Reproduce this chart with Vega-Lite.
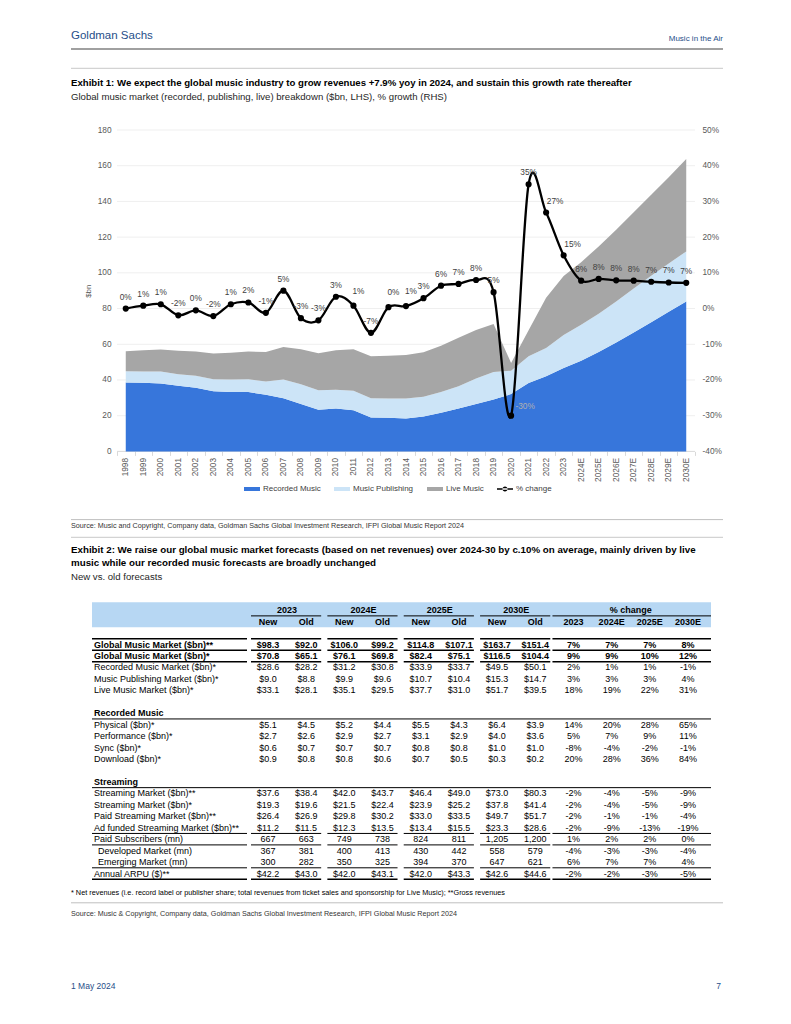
{
"$schema":"https://vega.github.io/schema/vega-lite/v6.json",
"padding":{"left":66,"top":20,"right":0,"bottom":0},
"bounds":"flush",
"spacing":0,
"config":{"view":{"stroke":null},"font":"Liberation Sans","axis":{"labelOverlap":false,"labelSeparation":0}},
"datasets":{
"market":[
{"year":"1998","Recorded Music":38.6,"Music Publishing":6.3,"Live Music":11.2},
{"year":"1999","Recorded Music":38.4,"Music Publishing":6.3,"Live Music":11.9},
{"year":"2000","Recorded Music":38.0,"Music Publishing":6.7,"Live Music":12.3},
{"year":"2001","Recorded Music":36.7,"Music Publishing":6.5,"Live Music":13.1},
{"year":"2002","Recorded Music":35.6,"Music Publishing":6.7,"Live Music":13.6},
{"year":"2003","Recorded Music":33.7,"Music Publishing":6.7,"Live Music":14.4},
{"year":"2004","Recorded Music":33.2,"Music Publishing":7.0,"Live Music":15.1},
{"year":"2005","Recorded Music":33.2,"Music Publishing":7.2,"Live Music":15.5},
{"year":"2006","Recorded Music":31.7,"Music Publishing":7.4,"Live Music":16.6},
{"year":"2007","Recorded Music":29.8,"Music Publishing":10.4,"Live Music":18.3},
{"year":"2008","Recorded Music":26.5,"Music Publishing":11.1,"Live Music":19.6},
{"year":"2009","Recorded Music":23.3,"Music Publishing":11.0,"Live Music":20.7},
{"year":"2010","Recorded Music":24.0,"Music Publishing":10.5,"Live Music":22.1},
{"year":"2011","Recorded Music":23.1,"Music Publishing":10.8,"Live Music":23.3},
{"year":"2012","Recorded Music":19.0,"Music Publishing":10.8,"Live Music":23.5},
{"year":"2013","Recorded Music":18.8,"Music Publishing":10.8,"Live Music":23.9},
{"year":"2014","Recorded Music":18.4,"Music Publishing":11.2,"Live Music":24.4},
{"year":"2015","Recorded Music":19.5,"Music Publishing":11.1,"Live Music":24.9},
{"year":"2016","Recorded Music":21.6,"Music Publishing":11.7,"Live Music":25.8},
{"year":"2017","Recorded Music":24.0,"Music Publishing":12.5,"Live Music":27.2},
{"year":"2018","Recorded Music":26.5,"Music Publishing":14.3,"Live Music":27.2},
{"year":"2019","Recorded Music":29.0,"Music Publishing":15.5,"Live Music":26.9},
{"year":"2020","Recorded Music":32.1,"Music Publishing":13.1,"Live Music":4.3},
{"year":"2021","Recorded Music":38.3,"Music Publishing":15.0,"Live Music":14.6},
{"year":"2022","Recorded Music":42.1,"Music Publishing":15.8,"Live Music":28.1},
{"year":"2023","Recorded Music":46.7,"Music Publishing":18.5,"Live Music":33.1},
{"year":"2024E","Recorded Music":50.8,"Music Publishing":20.1,"Live Music":35.1},
{"year":"2025E","Recorded Music":55.7,"Music Publishing":21.4,"Live Music":37.7},
{"year":"2026E","Recorded Music":61.0,"Music Publishing":23.0,"Live Music":40.2},
{"year":"2027E","Recorded Music":66.6,"Music Publishing":24.6,"Live Music":42.8},
{"year":"2028E","Recorded Music":72.4,"Music Publishing":26.0,"Live Music":45.4},
{"year":"2029E","Recorded Music":78.2,"Music Publishing":27.1,"Live Music":48.3},
{"year":"2030E","Recorded Music":84.0,"Music Publishing":28.0,"Live Music":51.7}
],
"growth":[
{"year":"1998","pct":0.0,"label":"0%"},
{"year":"1999","pct":0.8,"label":"1%"},
{"year":"2000","pct":1.2,"label":"1%"},
{"year":"2001","pct":-1.9,"label":"-2%"},
{"year":"2002","pct":-0.5,"label":"0%"},
{"year":"2003","pct":-2.1,"label":"-2%"},
{"year":"2004","pct":1.2,"label":"1%"},
{"year":"2005","pct":1.7,"label":"2%"},
{"year":"2006","pct":-1.2,"label":"-1%"},
{"year":"2007","pct":5.0,"label":"5%"},
{"year":"2008","pct":-2.7,"label":"-3%"},
{"year":"2009","pct":-3.3,"label":"-3%"},
{"year":"2010","pct":3.3,"label":"3%"},
{"year":"2011","pct":0.8,"label":"1%"},
{"year":"2012","pct":-6.8,"label":"-7%"},
{"year":"2013","pct":0.4,"label":"0%"},
{"year":"2014","pct":0.7,"label":"1%"},
{"year":"2015","pct":2.9,"label":"3%"},
{"year":"2016","pct":6.4,"label":"6%"},
{"year":"2017","pct":6.9,"label":"7%"},
{"year":"2018","pct":8.0,"label":"8%"},
{"year":"2019","pct":4.6,"label":"5%"},
{"year":"2020","pct":-30.0,"label":"-30%"},
{"year":"2021","pct":34.8,"label":"35%"},
{"year":"2022","pct":26.9,"label":"27%"},
{"year":"2023","pct":14.9,"label":"15%"},
{"year":"2024E","pct":7.8,"label":"8%"},
{"year":"2025E","pct":8.3,"label":"8%"},
{"year":"2026E","pct":7.9,"label":"8%"},
{"year":"2027E","pct":7.8,"label":"8%"},
{"year":"2028E","pct":7.5,"label":"7%"},
{"year":"2029E","pct":7.3,"label":"7%"},
{"year":"2030E","pct":7.2,"label":"7%"}
],
"grid":[{"g":0},{"g":20},{"g":40},{"g":60},{"g":80},{"g":100},{"g":120},{"g":140},{"g":160},{"g":180}],
"table":[
{"row":-2,"label":"","2023 New":"New","2023 Old":"Old","2024E New":"New","2024E Old":"Old","2025E New":"New","2025E Old":"Old","2030E New":"New","2030E Old":"Old","% 2023":"2023","% 2024E":"2024E","% 2025E":"2025E","% 2030E":"2030E"},
{"row":0,"label":"Global Music Market ($bn)**","2023 New":"$98.3","2023 Old":"$92.0","2024E New":"$106.0","2024E Old":"$99.2","2025E New":"$114.8","2025E Old":"$107.1","2030E New":"$163.7","2030E Old":"$151.4","% 2023":"7%","% 2024E":"7%","% 2025E":"7%","% 2030E":"8%"},
{"row":1,"label":"Global Music Market ($bn)*","2023 New":"$70.8","2023 Old":"$65.1","2024E New":"$76.1","2024E Old":"$69.8","2025E New":"$82.4","2025E Old":"$75.1","2030E New":"$116.5","2030E Old":"$104.4","% 2023":"9%","% 2024E":"9%","% 2025E":"10%","% 2030E":"12%"},
{"row":2,"label":"Recorded Music Market ($bn)*","2023 New":"$28.6","2023 Old":"$28.2","2024E New":"$31.2","2024E Old":"$30.8","2025E New":"$33.9","2025E Old":"$33.7","2030E New":"$49.5","2030E Old":"$50.1","% 2023":"2%","% 2024E":"1%","% 2025E":"1%","% 2030E":"-1%"},
{"row":3,"label":"Music Publishing Market ($bn)*","2023 New":"$9.0","2023 Old":"$8.8","2024E New":"$9.9","2024E Old":"$9.6","2025E New":"$10.7","2025E Old":"$10.4","2030E New":"$15.3","2030E Old":"$14.7","% 2023":"3%","% 2024E":"3%","% 2025E":"3%","% 2030E":"4%"},
{"row":4,"label":"Live Music Market ($bn)*","2023 New":"$33.1","2023 Old":"$28.1","2024E New":"$35.1","2024E Old":"$29.5","2025E New":"$37.7","2025E Old":"$31.0","2030E New":"$51.7","2030E Old":"$39.5","% 2023":"18%","% 2024E":"19%","% 2025E":"22%","% 2030E":"31%"},
{"row":6,"label":"Recorded Music"},
{"row":7,"label":"Physical ($bn)*","2023 New":"$5.1","2023 Old":"$4.5","2024E New":"$5.2","2024E Old":"$4.4","2025E New":"$5.5","2025E Old":"$4.3","2030E New":"$6.4","2030E Old":"$3.9","% 2023":"14%","% 2024E":"20%","% 2025E":"28%","% 2030E":"65%"},
{"row":8,"label":"Performance ($bn)*","2023 New":"$2.7","2023 Old":"$2.6","2024E New":"$2.9","2024E Old":"$2.7","2025E New":"$3.1","2025E Old":"$2.9","2030E New":"$4.0","2030E Old":"$3.6","% 2023":"5%","% 2024E":"7%","% 2025E":"9%","% 2030E":"11%"},
{"row":9,"label":"Sync ($bn)*","2023 New":"$0.6","2023 Old":"$0.7","2024E New":"$0.7","2024E Old":"$0.7","2025E New":"$0.8","2025E Old":"$0.8","2030E New":"$1.0","2030E Old":"$1.0","% 2023":"-8%","% 2024E":"-4%","% 2025E":"-2%","% 2030E":"-1%"},
{"row":10,"label":"Download ($bn)*","2023 New":"$0.9","2023 Old":"$0.8","2024E New":"$0.8","2024E Old":"$0.6","2025E New":"$0.7","2025E Old":"$0.5","2030E New":"$0.3","2030E Old":"$0.2","% 2023":"20%","% 2024E":"28%","% 2025E":"36%","% 2030E":"84%"},
{"row":12,"label":"Streaming"},
{"row":13,"label":"Streaming Market ($bn)**","2023 New":"$37.6","2023 Old":"$38.4","2024E New":"$42.0","2024E Old":"$43.7","2025E New":"$46.4","2025E Old":"$49.0","2030E New":"$73.0","2030E Old":"$80.3","% 2023":"-2%","% 2024E":"-4%","% 2025E":"-5%","% 2030E":"-9%"},
{"row":14,"label":"Streaming Market ($bn)*","2023 New":"$19.3","2023 Old":"$19.6","2024E New":"$21.5","2024E Old":"$22.4","2025E New":"$23.9","2025E Old":"$25.2","2030E New":"$37.8","2030E Old":"$41.4","% 2023":"-2%","% 2024E":"-4%","% 2025E":"-5%","% 2030E":"-9%"},
{"row":15,"label":"Paid Streaming Market ($bn)**","2023 New":"$26.4","2023 Old":"$26.9","2024E New":"$29.8","2024E Old":"$30.2","2025E New":"$33.0","2025E Old":"$33.5","2030E New":"$49.7","2030E Old":"$51.7","% 2023":"-2%","% 2024E":"-1%","% 2025E":"-1%","% 2030E":"-4%"},
{"row":16,"label":"Ad funded Streaming Market ($bn)**","2023 New":"$11.2","2023 Old":"$11.5","2024E New":"$12.3","2024E Old":"$13.5","2025E New":"$13.4","2025E Old":"$15.5","2030E New":"$23.3","2030E Old":"$28.6","% 2023":"-2%","% 2024E":"-9%","% 2025E":"-13%","% 2030E":"-19%"},
{"row":17,"label":"Paid Subscribers (mn)","2023 New":"667","2023 Old":"663","2024E New":"749","2024E Old":"738","2025E New":"824","2025E Old":"811","2030E New":"1,205","2030E Old":"1,200","% 2023":"1%","% 2024E":"2%","% 2025E":"2%","% 2030E":"0%"},
{"row":18,"label":"Developed Market (mn)","2023 New":"367","2023 Old":"381","2024E New":"400","2024E Old":"413","2025E New":"430","2025E Old":"442","2030E New":"558","2030E Old":"579","% 2023":"-4%","% 2024E":"-3%","% 2025E":"-3%","% 2030E":"-4%"},
{"row":19,"label":"Emerging Market (mn)","2023 New":"300","2023 Old":"282","2024E New":"350","2024E Old":"325","2025E New":"394","2025E Old":"370","2030E New":"647","2030E Old":"621","% 2023":"6%","% 2024E":"7%","% 2025E":"7%","% 2030E":"4%"},
{"row":20,"label":"Annual ARPU ($)**","2023 New":"$42.2","2023 Old":"$43.0","2024E New":"$42.0","2024E Old":"$43.1","2025E New":"$42.0","2025E Old":"$43.3","2030E New":"$42.6","2030E Old":"$44.6","% 2023":"-2%","% 2024E":"-2%","% 2025E":"-3%","% 2030E":"-5%"}
],
"groups":[
{"g":"2023","col":"2023 New"},{"g":"2024E","col":"2024E New"},{"g":"2025E","col":"2025E New"},{"g":"2030E","col":"2030E New"},{"g":"% change","col":"% 2024E"}
],
"tlines":[
{"at":-2.5,"kind":"group","from":"2023 New","to":"2023 Old"},{"at":-2.5,"kind":"group","from":"2024E New","to":"2024E Old"},{"at":-2.5,"kind":"group","from":"2025E New","to":"2025E Old"},{"at":-2.5,"kind":"group","from":"2030E New","to":"2030E Old"},{"at":-2.5,"kind":"pct","from":"% 2023","to":"% 2030E"},
{"at":-0.5,"kind":"label","from":"2023 New","to":"2023 New"},{"at":-0.5,"kind":"group","from":"2023 New","to":"2023 Old"},{"at":-0.5,"kind":"group","from":"2024E New","to":"2024E Old"},{"at":-0.5,"kind":"group","from":"2025E New","to":"2025E Old"},{"at":-0.5,"kind":"group","from":"2030E New","to":"2030E Old"},{"at":-0.5,"kind":"pct","from":"% 2023","to":"% 2030E"},
{"at":0.5,"kind":"label","from":"2023 New","to":"2023 New"},{"at":0.5,"kind":"group","from":"2023 New","to":"2023 Old"},{"at":0.5,"kind":"group","from":"2024E New","to":"2024E Old"},{"at":0.5,"kind":"group","from":"2025E New","to":"2025E Old"},{"at":0.5,"kind":"group","from":"2030E New","to":"2030E Old"},{"at":0.5,"kind":"pct","from":"% 2023","to":"% 2030E"},
{"at":1.5,"kind":"label","from":"2023 New","to":"2023 New"},{"at":1.5,"kind":"group","from":"2023 New","to":"2023 Old"},{"at":1.5,"kind":"group","from":"2024E New","to":"2024E Old"},{"at":1.5,"kind":"group","from":"2025E New","to":"2025E Old"},{"at":1.5,"kind":"group","from":"2030E New","to":"2030E Old"},{"at":1.5,"kind":"pct","from":"% 2023","to":"% 2030E"},
{"at":6.5,"kind":"full","from":"2023 New","to":"% 2030E"},
{"at":12.5,"kind":"full","from":"2023 New","to":"% 2030E"},
{"at":16.5,"kind":"label","from":"2023 New","to":"2023 New"},{"at":16.5,"kind":"group","from":"2023 New","to":"2023 Old"},{"at":16.5,"kind":"group","from":"2024E New","to":"2024E Old"},{"at":16.5,"kind":"group","from":"2025E New","to":"2025E Old"},{"at":16.5,"kind":"group","from":"2030E New","to":"2030E Old"},{"at":16.5,"kind":"pct","from":"% 2023","to":"% 2030E"},
{"at":17.5,"kind":"label","from":"2023 New","to":"2023 New"},{"at":17.5,"kind":"group","from":"2023 New","to":"2023 Old"},{"at":17.5,"kind":"group","from":"2024E New","to":"2024E Old"},{"at":17.5,"kind":"group","from":"2025E New","to":"2025E Old"},{"at":17.5,"kind":"group","from":"2030E New","to":"2030E Old"},{"at":17.5,"kind":"pct","from":"% 2023","to":"% 2030E"},
{"at":19.5,"kind":"label","from":"2023 New","to":"2023 New"},{"at":19.5,"kind":"group","from":"2023 New","to":"2023 Old"},{"at":19.5,"kind":"group","from":"2024E New","to":"2024E Old"},{"at":19.5,"kind":"group","from":"2025E New","to":"2025E Old"},{"at":19.5,"kind":"group","from":"2030E New","to":"2030E Old"},{"at":19.5,"kind":"pct","from":"% 2023","to":"% 2030E"},
{"at":20.5,"kind":"label","from":"2023 New","to":"2023 New"},{"at":20.5,"kind":"group","from":"2023 New","to":"2023 Old"},{"at":20.5,"kind":"group","from":"2024E New","to":"2024E Old"},{"at":20.5,"kind":"group","from":"2025E New","to":"2025E Old"},{"at":20.5,"kind":"group","from":"2030E New","to":"2030E Old"},{"at":20.5,"kind":"pct","from":"% 2023","to":"% 2030E"}
]
},
"vconcat":[
{
"width":652,"height":109.3,
"data":{"values":[{}]},
"layer":[
{"mark":{"type":"text","text":"Goldman Sachs","align":"left","baseline":"middle","font":"Liberation Sans","fontSize":11.5,"color":"#1F4E89"},
 "encoding":{"x":{"datum":0,"type":"quantitative","scale":{"domain":[0,652],"nice":false,"zero":false},"axis":null},"y":{"datum":16,"type":"quantitative","scale":{"domain":[0,109.3],"reverse":true,"nice":false,"zero":false},"axis":null}}},
{"mark":{"type":"text","text":"Music in the Air","align":"right","baseline":"middle","font":"Liberation Sans","fontSize":8,"color":"#1F4E89"},
 "encoding":{"x":{"datum":652,"type":"quantitative","scale":{"domain":[0,652],"nice":false,"zero":false},"axis":null},"y":{"datum":18.5,"type":"quantitative","scale":{"domain":[0,109.3],"reverse":true,"nice":false,"zero":false},"axis":null}}},
{"mark":{"type":"rule","color":"#808080","strokeWidth":1.3},
 "encoding":{"x":{"datum":0,"type":"quantitative","scale":{"domain":[0,652],"nice":false,"zero":false},"axis":null},"x2":{"datum":652},"y":{"datum":29,"type":"quantitative","scale":{"domain":[0,109.3],"reverse":true,"nice":false,"zero":false},"axis":null}}},
{"mark":{"type":"rule","color":"#c8c8c8","strokeWidth":1},
 "encoding":{"x":{"datum":0,"type":"quantitative","scale":{"domain":[0,652],"nice":false,"zero":false},"axis":null},"x2":{"datum":652},"y":{"datum":48.3,"type":"quantitative","scale":{"domain":[0,109.3],"reverse":true,"nice":false,"zero":false},"axis":null}}},
{"mark":{"type":"text","text":"Exhibit 1: We expect the global music industry to grow revenues +7.9% yoy in 2024, and sustain this growth rate thereafter","align":"left","baseline":"middle","font":"Liberation Sans","fontSize":9.65,"fontWeight":"bold","color":"#000000"},
 "encoding":{"x":{"datum":0,"type":"quantitative","scale":{"domain":[0,652],"nice":false,"zero":false},"axis":null},"y":{"datum":63,"type":"quantitative","scale":{"domain":[0,109.3],"reverse":true,"nice":false,"zero":false},"axis":null}}},
{"mark":{"type":"text","text":"Global music market (recorded, publishing, live) breakdown ($bn, LHS), % growth (RHS)","align":"left","baseline":"middle","font":"Liberation Sans","fontSize":9.6,"color":"#262626"},
 "encoding":{"x":{"datum":0,"type":"quantitative","scale":{"domain":[0,652],"nice":false,"zero":false},"axis":null},"y":{"datum":77,"type":"quantitative","scale":{"domain":[0,109.3],"reverse":true,"nice":false,"zero":false},"axis":null}}}
]
},
{
"width":624,"height":321.4,
"layer":[
{"layer":[
 {"data":{"name":"grid"},
  "mark":{"type":"rule","strokeWidth":1,"xOffset":-8.76,"x2Offset":8.76},
  "encoding":{
   "x":{"datum":"1998","type":"ordinal","scale":{"type":"band","paddingInner":0,"paddingOuter":0,"range":[46,624]}},
   "x2":{"datum":"2030E"},
   "y":{"field":"g","type":"quantitative","scale":{"domain":[0,180],"nice":false},
        "axis":{"title":"$bn","titleFontSize":8,"titleFontWeight":"normal","titleColor":"#595959","titleAngle":270,"titleAlign":"center","titleBaseline":"middle","titleX":-29,"titleY":160.7,"offset":-46,"labelFontSize":8.3,"labelColor":"#595959","labelPadding":6,"labelOverlap":false,"ticks":false,"domain":false,"grid":false,"values":[0,20,40,60,80,100,120,140,160,180]}},
   "stroke":{"condition":{"test":"datum.g === 0","value":"#d9d9d9"},"value":"#efefef"}
  }},
 {"data":{"name":"market"},
  "transform":[{"fold":["Recorded Music","Music Publishing","Live Music"],"as":["series","value"]}],
  "mark":{"type":"area","opacity":1},
  "encoding":{
   "x":{"field":"year","type":"ordinal","bandPosition":0.5,"scale":{"type":"band","paddingInner":0,"paddingOuter":0,"range":[46,624]},
        "axis":{"title":null,"labelAngle":270,"labelFontSize":8.3,"labelColor":"#595959","labelOverlap":false,"domain":false,"ticks":true,"tickBand":"extent","tickColor":"#d9d9d9","tickSize":4,"labelPadding":2,"grid":false}},
   "y":{"field":"value","type":"quantitative","stack":"zero","scale":{"domain":[0,180],"nice":false},
        "axis":{"title":"$bn","titleFontSize":8,"titleFontWeight":"normal","titleColor":"#595959","titleAngle":270,"titleAlign":"center","titleBaseline":"middle","titleX":-29,"titleY":160.7,"offset":-46,"labelFontSize":8.3,"labelColor":"#595959","labelPadding":6,"labelOverlap":false,"ticks":false,"domain":false,"grid":false,"values":[0,20,40,60,80,100,120,140,160,180]}},
   "color":{"field":"series","type":"nominal","sort":["Recorded Music","Music Publishing","Live Music","% change"],
        "scale":{"domain":["Recorded Music","Music Publishing","Live Music","% change"],"range":["#3776DB","#CCE4F7","#A6A6A6","#000000"]},
        "legend":{"orient":"none","legendX":173,"legendY":461,"direction":"horizontal","title":null,"labelFontSize":8,"labelColor":"#404040","symbolSize":256,"symbolType":"M-1,-0.25H1V0.25H-1Z","symbolStrokeWidth":0,"symbolOpacity":1,"labelOffset":3,"columnPadding":13,
          "encode":{"symbols":{"update":{"shape":{"signal":"datum.value === '% change' ? 'M-1,-0.1H1V0.1H-1Z M-0.32,0A0.32,0.32 0 1,0 0.32,0A0.32,0.32 0 1,0 -0.32,0Z' : 'M-1,-0.25H1V0.25H-1Z'"}}}}}}
  }}
]},
{"data":{"name":"growth"},
 "encoding":{
  "x":{"field":"year","type":"ordinal","bandPosition":0.5,"scale":{"type":"band","paddingInner":0,"paddingOuter":0,"range":[46,624]}},
  "y":{"field":"pct","type":"quantitative","scale":{"domain":[-40,50],"nice":false,"zero":false},
     "axis":{"orient":"right","title":null,"labelExpr":"datum.value + '%'","values":[-40,-30,-20,-10,0,10,20,30,40,50],"labelOverlap":false,"ticks":false,"domain":false,"grid":false,"labelPadding":7,"labelFontSize":8.3,"labelColor":"#595959"}}
 },
 "layer":[
  {"mark":{"type":"line","interpolate":"cardinal","color":"#000000","strokeWidth":2.3}},
  {"mark":{"type":"point","filled":true,"color":"#000000","size":38,"opacity":1}},
  {"transform":[{"filter":{"not":{"field":"year","oneOf":["2011","2013","2014","2020","2022","2023"]}}}],
   "mark":{"type":"text","fontSize":8.3,"color":"#404040","dy":-11,"baseline":"middle"},
   "encoding":{"text":{"field":"label"}}},
  {"transform":[{"filter":{"field":"year","oneOf":["2011","2013","2014"]}}],
   "mark":{"type":"text","fontSize":8.3,"color":"#404040","dx":5,"dy":-14,"baseline":"middle"},
   "encoding":{"text":{"field":"label"}}},
  {"transform":[{"filter":{"field":"year","oneOf":["2022","2023"]}}],
   "mark":{"type":"text","fontSize":8.3,"color":"#404040","dx":9,"dy":-10,"baseline":"middle"},
   "encoding":{"text":{"field":"label"}}},
  {"transform":[{"filter":{"field":"year","oneOf":["2020"]}}],
   "mark":{"type":"text","fontSize":8.3,"color":"#b0b0b0","dx":14,"dy":-9,"baseline":"middle"},
   "encoding":{"text":{"field":"label"}}}
 ]}
],
"resolve":{"scale":{"y":"independent"}}
},
{
"width":652,"height":148.1,
"data":{"values":[{}]},
"layer":[
{"mark":{"type":"rule","color":"#bfbfbf","strokeWidth":1},
 "encoding":{"x":{"datum":0,"type":"quantitative","scale":{"domain":[0,652],"nice":false,"zero":false},"axis":null},"x2":{"datum":652},"y":{"datum":67.6,"type":"quantitative","scale":{"domain":[0,148.1],"reverse":true,"nice":false,"zero":false},"axis":null}}},
{"mark":{"type":"text","text":"Source: Music and Copyright, Company data, Goldman Sachs Global Investment Research, IFPI Global Music Report 2024","align":"left","baseline":"middle","font":"Liberation Sans","fontSize":7.2,"color":"#333333"},
 "encoding":{"x":{"datum":0,"type":"quantitative","scale":{"domain":[0,652],"nice":false,"zero":false},"axis":null},"y":{"datum":73.8,"type":"quantitative","scale":{"domain":[0,148.1],"reverse":true,"nice":false,"zero":false},"axis":null}}},
{"mark":{"type":"rule","color":"#c8c8c8","strokeWidth":1},
 "encoding":{"x":{"datum":0,"type":"quantitative","scale":{"domain":[0,652],"nice":false,"zero":false},"axis":null},"x2":{"datum":652},"y":{"datum":85.3,"type":"quantitative","scale":{"domain":[0,148.1],"reverse":true,"nice":false,"zero":false},"axis":null}}},
{"mark":{"type":"text","text":"Exhibit 2: We raise our global music market forecasts (based on net revenues) over 2024-30 by c.10% on average, mainly driven by live","align":"left","baseline":"middle","font":"Liberation Sans","fontSize":9.75,"fontWeight":"bold","color":"#000000"},
 "encoding":{"x":{"datum":0,"type":"quantitative","scale":{"domain":[0,652],"nice":false,"zero":false},"axis":null},"y":{"datum":97.8,"type":"quantitative","scale":{"domain":[0,148.1],"reverse":true,"nice":false,"zero":false},"axis":null}}},
{"mark":{"type":"text","text":"music while our recorded music forecasts are broadly unchanged","align":"left","baseline":"middle","font":"Liberation Sans","fontSize":9.75,"fontWeight":"bold","color":"#000000"},
 "encoding":{"x":{"datum":0,"type":"quantitative","scale":{"domain":[0,652],"nice":false,"zero":false},"axis":null},"y":{"datum":111.3,"type":"quantitative","scale":{"domain":[0,148.1],"reverse":true,"nice":false,"zero":false},"axis":null}}},
{"mark":{"type":"text","text":"New vs. old forecasts","align":"left","baseline":"middle","font":"Liberation Sans","fontSize":9.6,"color":"#262626"},
 "encoding":{"x":{"datum":0,"type":"quantitative","scale":{"domain":[0,652],"nice":false,"zero":false},"axis":null},"y":{"datum":125.3,"type":"quantitative","scale":{"domain":[0,148.1],"reverse":true,"nice":false,"zero":false},"axis":null}}}
]
},
{
"width":652,"height":279.4,
"layer":[
{"data":{"values":[{}]},
 "mark":{"type":"rect","color":"#B7D7F3","xOffset":-176,"x2Offset":23},
 "encoding":{
  "x":{"datum":"2023 New","type":"nominal","scale":{"type":"point","domain":["2023 New","2023 Old","2024E New","2024E Old","2025E New","2025E Old","2030E New","2030E Old","% 2023","% 2024E","% 2025E","% 2030E"],"padding":0,"range":[197,617]},"axis":null},
  "x2":{"datum":"% 2030E"},
  "y":{"datum":-3.69,"type":"quantitative","scale":{"domain":[-3.8,20.6],"reverse":true,"nice":false,"zero":false},"axis":null},
  "y2":{"datum":-1.51}
 }},
{"data":{"name":"groups"},
 "mark":{"type":"text","fontSize":9,"fontWeight":"bold","color":"#000000","dx":19.09,"align":"center","baseline":"middle"},
 "encoding":{
  "x":{"field":"col","type":"nominal","scale":{"type":"point","domain":["2023 New","2023 Old","2024E New","2024E Old","2025E New","2025E Old","2030E New","2030E Old","% 2023","% 2024E","% 2025E","% 2030E"],"padding":0,"range":[197,617]},"axis":null},
  "y":{"datum":-3,"type":"quantitative","scale":{"domain":[-3.8,20.6],"reverse":true,"nice":false,"zero":false},"axis":null},
  "text":{"field":"g"}
 }},
{"data":{"name":"table"},
 "transform":[{"fold":["2023 New","2023 Old","2024E New","2024E Old","2025E New","2025E Old","2030E New","2030E Old","% 2023","% 2024E","% 2025E","% 2030E"],"as":["col","v"]},{"filter":"isValid(datum.v) && datum.row > 1"}],
 "mark":{"type":"text","fontSize":9,"color":"#000000","align":"center","baseline":"middle"},
 "encoding":{
  "x":{"field":"col","type":"nominal","scale":{"type":"point","domain":["2023 New","2023 Old","2024E New","2024E Old","2025E New","2025E Old","2030E New","2030E Old","% 2023","% 2024E","% 2025E","% 2030E"],"padding":0,"range":[197,617]},"axis":null},
  "y":{"field":"row","type":"quantitative","scale":{"domain":[-3.8,20.6],"reverse":true,"nice":false,"zero":false},"axis":null},
  "text":{"field":"v"}
 }},
{"data":{"name":"table"},
 "transform":[{"fold":["2023 New","2023 Old","2024E New","2024E Old","2025E New","2025E Old","2030E New","2030E Old","% 2023","% 2024E","% 2025E","% 2030E"],"as":["col","v"]},{"filter":"isValid(datum.v) && datum.row <= 1"}],
 "mark":{"type":"text","fontSize":9,"fontWeight":"bold","color":"#000000","align":"center","baseline":"middle"},
 "encoding":{
  "x":{"field":"col","type":"nominal","scale":{"type":"point","domain":["2023 New","2023 Old","2024E New","2024E Old","2025E New","2025E Old","2030E New","2030E Old","% 2023","% 2024E","% 2025E","% 2030E"],"padding":0,"range":[197,617]},"axis":null},
  "y":{"field":"row","type":"quantitative","scale":{"domain":[-3.8,20.6],"reverse":true,"nice":false,"zero":false},"axis":null},
  "text":{"field":"v"}
 }},
{"data":{"name":"table"},
 "transform":[{"filter":{"not":{"field":"row","oneOf":[-2,0,1,6,12,18,19]}}}],
 "mark":{"type":"text","fontSize":9,"color":"#000000","align":"left","baseline":"middle","dx":-174},
 "encoding":{
  "x":{"datum":"2023 New","type":"nominal","scale":{"type":"point","domain":["2023 New","2023 Old","2024E New","2024E Old","2025E New","2025E Old","2030E New","2030E Old","% 2023","% 2024E","% 2025E","% 2030E"],"padding":0,"range":[197,617]},"axis":null},
  "y":{"field":"row","type":"quantitative","scale":{"domain":[-3.8,20.6],"reverse":true,"nice":false,"zero":false},"axis":null},
  "text":{"field":"label"}
 }},
{"data":{"name":"table"},
 "transform":[{"filter":{"field":"row","oneOf":[0,1,6,12]}}],
 "mark":{"type":"text","fontSize":9,"fontWeight":"bold","color":"#000000","align":"left","baseline":"middle","dx":-174},
 "encoding":{
  "x":{"datum":"2023 New","type":"nominal","scale":{"type":"point","domain":["2023 New","2023 Old","2024E New","2024E Old","2025E New","2025E Old","2030E New","2030E Old","% 2023","% 2024E","% 2025E","% 2030E"],"padding":0,"range":[197,617]},"axis":null},
  "y":{"field":"row","type":"quantitative","scale":{"domain":[-3.8,20.6],"reverse":true,"nice":false,"zero":false},"axis":null},
  "text":{"field":"label"}
 }},
{"data":{"name":"table"},
 "transform":[{"filter":{"field":"row","oneOf":[18,19]}}],
 "mark":{"type":"text","fontSize":9,"color":"#000000","align":"left","baseline":"middle","dx":-170},
 "encoding":{
  "x":{"datum":"2023 New","type":"nominal","scale":{"type":"point","domain":["2023 New","2023 Old","2024E New","2024E Old","2025E New","2025E Old","2030E New","2030E Old","% 2023","% 2024E","% 2025E","% 2030E"],"padding":0,"range":[197,617]},"axis":null},
  "y":{"field":"row","type":"quantitative","scale":{"domain":[-3.8,20.6],"reverse":true,"nice":false,"zero":false},"axis":null},
  "text":{"field":"label"}
 }},
{"data":{"name":"tlines"},
 "transform":[{"filter":{"field":"kind","equal":"label"}}],
 "mark":{"type":"rule","color":"#000000","xOffset":-176,"x2Offset":-21},
 "encoding":{
  "x":{"field":"from","type":"nominal","scale":{"type":"point","domain":["2023 New","2023 Old","2024E New","2024E Old","2025E New","2025E Old","2030E New","2030E Old","% 2023","% 2024E","% 2025E","% 2030E"],"padding":0,"range":[197,617]},"axis":null},
  "x2":{"field":"to"},
  "y":{"field":"at","type":"quantitative","scale":{"domain":[-3.8,20.6],"reverse":true,"nice":false,"zero":false},"axis":null},
  "strokeWidth":{"condition":{"test":"datum.at === -0.5 || datum.at === 0.5 || datum.at === 1.5 || datum.at === 20.5","value":1.6},"value":1}
 }},
{"data":{"name":"tlines"},
 "transform":[{"filter":{"field":"kind","equal":"group"}}],
 "mark":{"type":"rule","color":"#000000","xOffset":-17,"x2Offset":15},
 "encoding":{
  "x":{"field":"from","type":"nominal","scale":{"type":"point","domain":["2023 New","2023 Old","2024E New","2024E Old","2025E New","2025E Old","2030E New","2030E Old","% 2023","% 2024E","% 2025E","% 2030E"],"padding":0,"range":[197,617]},"axis":null},
  "x2":{"field":"to"},
  "y":{"field":"at","type":"quantitative","scale":{"domain":[-3.8,20.6],"reverse":true,"nice":false,"zero":false},"axis":null},
  "strokeWidth":{"condition":{"test":"datum.at === -0.5 || datum.at === 0.5 || datum.at === 1.5 || datum.at === 20.5","value":1.6},"value":1}
 }},
{"data":{"name":"tlines"},
 "transform":[{"filter":{"field":"kind","equal":"pct"}}],
 "mark":{"type":"rule","color":"#000000","xOffset":-21,"x2Offset":23},
 "encoding":{
  "x":{"field":"from","type":"nominal","scale":{"type":"point","domain":["2023 New","2023 Old","2024E New","2024E Old","2025E New","2025E Old","2030E New","2030E Old","% 2023","% 2024E","% 2025E","% 2030E"],"padding":0,"range":[197,617]},"axis":null},
  "x2":{"field":"to"},
  "y":{"field":"at","type":"quantitative","scale":{"domain":[-3.8,20.6],"reverse":true,"nice":false,"zero":false},"axis":null},
  "strokeWidth":{"condition":{"test":"datum.at === -0.5 || datum.at === 0.5 || datum.at === 1.5 || datum.at === 20.5","value":1.6},"value":1}
 }},
{"data":{"name":"tlines"},
 "transform":[{"filter":{"field":"kind","equal":"full"}}],
 "mark":{"type":"rule","color":"#000000","strokeWidth":1,"xOffset":-176,"x2Offset":23},
 "encoding":{
  "x":{"field":"from","type":"nominal","scale":{"type":"point","domain":["2023 New","2023 Old","2024E New","2024E Old","2025E New","2025E Old","2030E New","2030E Old","% 2023","% 2024E","% 2025E","% 2030E"],"padding":0,"range":[197,617]},"axis":null},
  "x2":{"field":"to"},
  "y":{"field":"at","type":"quantitative","scale":{"domain":[-3.8,20.6],"reverse":true,"nice":false,"zero":false},"axis":null}
 }}
]
},
{
"width":652,"height":121.8,
"data":{"values":[{}]},
"layer":[
{"mark":{"type":"text","text":"* Net revenues (i.e. record label or publisher share; total revenues from ticket sales and sponsorship for Live Music); **Gross revenues","align":"left","baseline":"middle","font":"Liberation Sans","fontSize":7.3,"color":"#000000"},
 "encoding":{"x":{"datum":0,"type":"quantitative","scale":{"domain":[0,652],"nice":false,"zero":false},"axis":null},"y":{"datum":11.8,"type":"quantitative","scale":{"domain":[0,121.8],"reverse":true,"nice":false,"zero":false},"axis":null}}},
{"mark":{"type":"rule","color":"#bfbfbf","strokeWidth":1},
 "encoding":{"x":{"datum":0,"type":"quantitative","scale":{"domain":[0,652],"nice":false,"zero":false},"axis":null},"x2":{"datum":652},"y":{"datum":21.8,"type":"quantitative","scale":{"domain":[0,121.8],"reverse":true,"nice":false,"zero":false},"axis":null}}},
{"mark":{"type":"text","text":"Source: Music & Copyright, Company data, Goldman Sachs Global Investment Research, IFPI Global Music Report 2024","align":"left","baseline":"middle","font":"Liberation Sans","fontSize":7.2,"color":"#333333"},
 "encoding":{"x":{"datum":0,"type":"quantitative","scale":{"domain":[0,652],"nice":false,"zero":false},"axis":null},"y":{"datum":33.1,"type":"quantitative","scale":{"domain":[0,121.8],"reverse":true,"nice":false,"zero":false},"axis":null}}},
{"mark":{"type":"text","text":"1 May 2024","align":"left","baseline":"middle","font":"Liberation Sans","fontSize":8.5,"color":"#1F4E89"},
 "encoding":{"x":{"datum":0,"type":"quantitative","scale":{"domain":[0,652],"nice":false,"zero":false},"axis":null},"y":{"datum":104.8,"type":"quantitative","scale":{"domain":[0,121.8],"reverse":true,"nice":false,"zero":false},"axis":null}}},
{"mark":{"type":"text","text":"7","align":"right","baseline":"middle","font":"Liberation Sans","fontSize":8.5,"color":"#1F4E89"},
 "encoding":{"x":{"datum":650,"type":"quantitative","scale":{"domain":[0,652],"nice":false,"zero":false},"axis":null},"y":{"datum":104.8,"type":"quantitative","scale":{"domain":[0,121.8],"reverse":true,"nice":false,"zero":false},"axis":null}}}
]
}
]
}
